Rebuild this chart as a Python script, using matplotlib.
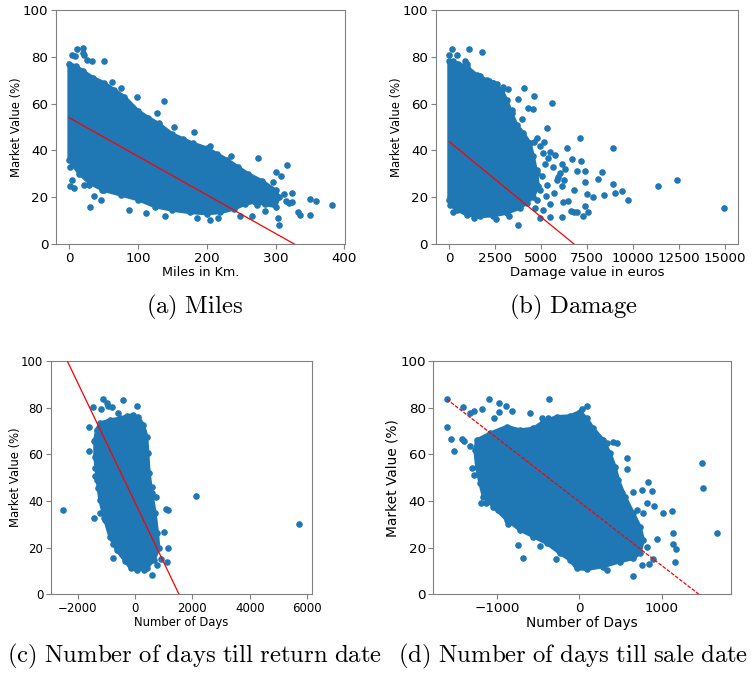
import matplotlib
matplotlib.use("Agg")
import matplotlib.pyplot as plt

plt.rcParams['mathtext.fontset'] = 'cm'

BLUE = '#1f77b4'
GREY = '#808080'

# ---- (a) Miles ----
# outline of the dense cloud (miles, market value %)
a_cloud_x = [0, 10, 20, 35, 50, 65, 80, 100, 115, 130, 150, 165, 180, 200, 215, 230, 245, 260, 280, 300, 305,
             300, 285, 270, 255, 240, 220, 200, 175, 150, 125, 100, 75, 50, 30, 15, 5, 0]
a_cloud_y = [77, 76, 74, 71, 69, 66, 63, 57, 54, 51.5, 47, 45, 43, 41, 38.5, 36, 33, 30, 27, 23, 20,
             16, 17, 18, 17, 15, 13.5, 13, 13.5, 14.5, 16, 19, 21, 23, 26, 30, 34, 36]
# single points around the cloud
a_pts_x = [12, 20, 20, 21, 4, 8, 26, 34, 50, 138, 63, 76, 99, 128, 152, 181, 205, 235, 274, 317, 300, 308,
           297, 324, 312, 350, 359, 382, 350, 333, 336, 324, 304, 305, 30, 2, 7, 4, 2, 22, 29, 36, 47, 48,
           87, 112, 139, 186, 205, 217, 249, 266, 273, 290, 285, 280, 320, 315]
a_pts_y = [83.2, 83.6, 81.8, 80.8, 80.8, 80.4, 78.7, 78.4, 78, 61.2, 69.4, 66.6, 63, 56, 49.8, 47.7, 41.7,
           37.7, 36.7, 33.6, 30.7, 28.9, 26.3, 21.8, 21.3, 19.2, 18.2, 16.8, 12.5, 13.7, 12.2, 17.8, 11.1, 8.3,
           15.8, 24.6, 24, 27.5, 33.1, 25.3, 25.3, 20.6, 18.9, 23.2, 14.7, 13.2, 11.8, 11.1, 10.4, 11.1, 11.8,
           11.8, 16.8, 22, 14, 26, 17.5, 18.5]
a_fit_x = [0, 382]
a_fit_y = [54, 54 - 0.165 * 382]

# ---- (b) Damage ----
b_cloud_x = [0, 200, 500, 960, 1500, 2050, 2400, 2860, 3130, 3400, 3680, 4040, 4400, 4580, 4760, 4850,
             4580, 4220, 3860, 3130, 2400, 1690, 960, 420, 50, 0]
b_cloud_y = [78, 78, 77, 75.8, 72.3, 70.1, 68.7, 65.9, 61.6, 55.9, 50.9, 47.4, 43.1, 37.4, 30.3, 24.6,
             20.3, 17.5, 15.4, 13.2, 12.1, 11.8, 12.5, 14.7, 16.8, 18.9]
b_pts_x = [181, 1105, 1812, 0, 435, 870, 996, 1685, 2192, 2409, 2590, 2953, 3225, 4094, 4620, 5616, 3768,
           4275, 4547, 3406, 3940, 5308, 4764, 7120, 8895, 6395, 4946, 5181, 5489, 5761, 6123, 6667, 7174,
           6938, 7391, 8297, 8080, 7373, 8931, 9384, 9022, 11377, 12409, 14964, 9746, 8442, 7844, 7482,
           6812, 6123, 6486, 6178, 6938, 7391, 7572, 7264, 6630, 6812, 6123, 5489, 5127, 4674, 4946, 3732,
           3279, 2536, 1359, 1594, 236, 5308, 5851, 6033, 5670, 5217, 5399, 5127, 4620, 4221, 4402, 4764,
           4493, 4946, 5272, 4764, 5950, 6300, 5700, 5050, 5500, 6250]
b_pts_y = [83.5, 83.5, 81.9, 80.8, 80.8, 78.2, 76.8, 71.8, 69.7, 69, 68.3, 67, 66.1, 66.6, 63.3, 60.2,
           61.9, 58.3, 57.6, 57.3, 53.3, 49.5, 45.2, 45.2, 41, 41, 42, 43.8, 39.5, 38.1, 34.3, 36.3, 35.6,
           31, 31, 30.6, 27.7, 26.6, 25.6, 22.5, 22, 24.9, 27.5, 15.6, 18.9, 21, 20.3, 21.3, 23.2, 24.9,
           18.2, 17.8, 13.5, 16.1, 13.5, 12.1, 13.9, 13.5, 11.5, 11.5, 14.6, 15.4, 11.1, 8.3, 12.1, 10.7,
           11.1, 12.5, 13.7, 25.3, 27.5, 30.3, 33.1, 34.3, 36.7, 38.8, 43.8, 40.3, 37.4, 31.7, 26.7, 23.2,
           20.6, 18.9, 28.5, 32, 22, 29, 17, 27.5]
b_fit_x = [0, 14964]
b_fit_y = [43.8, 43.8 - 43.8 / 6793 * 14964]

# ---- (c) Days till return date ----
c_cloud_x = [-1221, -872, -523, -291, -58, 116, 291, 407, 442, 488, 581, 698, 779, 826, 663, 407, 58,
             -151, -349, -640, -872, -1047, -1221, -1314, -1395, -1395, -1337]
c_cloud_y = [73.3, 74.7, 75.4, 76.4, 76.9, 75.9, 72.6, 67.6, 60.4, 51.9, 43.3, 34.7, 26.1, 19.7, 14.7,
             11.4, 10.4, 11.1, 14.4, 19, 24.7, 31.9, 40.4, 49, 59, 66.1, 70.4]
c_pts_x = [-2500, 2116, 5733, -1605, -1593, -1430, -1477, -1105, -988, -407, 58, -1198, -930, -791, -605,
           -1384, -1407, -1419, -1221, -1070, -756, -779, -291, 326, 581, 756, 1128, 1163, 895, 1012, 1081,
           1140, 733, 581, -1279, -1221]
c_pts_y = [36, 42.3, 30.1, 71.7, 61.4, 65.9, 80.3, 83.6, 81.9, 83.3, 80.9, 79.3, 80.7, 80.4, 77.9, 54,
           50.7, 32.7, 34.7, 32.9, 15.4, 21.4, 15.1, 10.4, 8.3, 12.6, 14, 19.7, 15, 26.6, 36.4, 36, 41.6,
           46.1, 45.4, 49]
c_fit_x = [-2500, 5733]
c_fit_y = [39.4 + 0.02567 * 2500, 39.4 - 0.02567 * 5733]

# ---- (d) Days till sale date ----
d_cloud_x = [-1247, -1085, -883, -721, -559, -437, -275, -113, 8, 89, 170, 291, 372, 433, 474, 555, 656,
             737, 777, 737, 656, 494, 291, 89, -32, -113, -235, -397, -559, -721, -883, -1045, -1166,
             -1206, -1247, -1267]
d_cloud_y = [66.1, 69, 71.9, 70.4, 71.1, 74, 76.1, 76.4, 78.3, 75.4, 71.1, 66.1, 60.4, 54.7, 49, 41.9,
             34.7, 29, 23.3, 17.6, 15.4, 14, 11.9, 10.7, 11.1, 14.7, 17.6, 21.9, 24.7, 27.6, 31.9, 37.6,
             41.9, 47.6, 54.7, 61.9]
d_pts_x = [-1603, -1409, -1522, -1429, -1401, -1328, -1308, -1279, -1194, -1097, -976, -972, -895, -814,
           -595, -368, -377, -449, 89, 36, -1328, -1275, -1186, -1036, -1559, -1198, -1134, -1024, -984,
           -870, -741, -680, -478, -283, -81, 332, 648, 757, 850, 891, 826, 939, 1020, 1134, 1121, 1142,
           1162, 1170, 1494, 1506, 1668, 575, 575, 453, 413, 332, 656, 757, 838, 879, 907, 818, 777, 696,
           514, -1603]
d_pts_y = [83.6, 80.4, 61.6, 66.4, 65.7, 63.6, 54, 51.1, 54.3, 83.6, 81.9, 78.3, 80.9, 78.6, 77.9, 83.6,
           75.4, 75.4, 80.7, 79.4, 77.6, 78.7, 79.3, 75.7, 66.4, 39, 39, 37.6, 36.1, 30, 21.3, 15.4, 20.9,
           15, 15, 10.4, 8, 12.6, 13, 15.1, 20.4, 23.6, 34.7, 26.4, 35.7, 21.6, 14, 19.6, 56.4, 45.7, 26.4,
           58.3, 53.6, 65, 65.4, 65, 44, 44.7, 48.3, 44.4, 37.9, 39.3, 34.7, 36.1, 43.3, 71.9]
d_fit_x = [-1611, 1668]
d_fit_y = [83.6, 83.6 - 0.02728 * (1668 + 1611)]

panels = [
    # rect, xlim, xticks, xlabel, data, fit style, (tick, xlabel, ylabel) sizes, ylabel x
    ([0.0742, 0.6385, 0.3828, 0.3467], (-19, 401), [0, 100, 200, 300, 400], 'Miles in Km.',
     (a_cloud_x, a_cloud_y, a_pts_x, a_pts_y, a_fit_x, a_fit_y), '-', (9.6, 9.2, 8.4), -0.114),
    ([0.5771, 0.6385, 0.4008, 0.3467], (-723, 15723), [0, 2500, 5000, 7500, 10000, 12500, 15000],
     'Damage value in euros',
     (b_cloud_x, b_cloud_y, b_pts_x, b_pts_y, b_fit_x, b_fit_y), '-', (9.6, 9.5, 8.4), -0.109),
    ([0.0675, 0.1196, 0.3453, 0.3456], (-2930, 6160), [-2000, 0, 2000, 4000, 6000], 'Number of Days',
     (c_cloud_x, c_cloud_y, c_pts_x, c_pts_y, c_fit_x, c_fit_y), '-', (8.5, 8.4, 8.4), -0.113),
    ([0.5739, 0.1196, 0.3939, 0.3456], (-1775, 1840), [-1000, 0, 1000], 'Number of Days',
     (d_cloud_x, d_cloud_y, d_pts_x, d_pts_y, d_fit_x, d_fit_y), (0, (3, 1.2)), (9.7, 9.9, 9.9), -0.113),
]

captions = [
    (0.257, 0.545, r'$\mathrm{(a)\ Miles}$'),
    (0.7596, 0.545, r'$\mathrm{(b)\ Damage}$'),
    (0.257, 0.027, r'$\mathrm{(c)\ Number\ of\ days\ till\ return\ date}$'),
    (0.759, 0.027, r'$\mathrm{(d)\ Number\ of\ days\ till\ sale\ date}$'),
]

fig = plt.figure(figsize=(7.55, 6.75), dpi=100)

for rect, xlim, xticks, xlabel, data, ls, sizes, ylx in panels:
    cx, cy, px, py, fx, fy = data
    tfs, xfs, yfs = sizes
    ax = fig.add_axes(rect)
    ax.fill(cx, cy, color=BLUE, lw=2.5, zorder=2)
    ax.scatter(cx, cy, s=14, color=BLUE, zorder=2)
    ax.scatter(px, py, s=14, color=BLUE, zorder=2)
    ax.plot(fx, fy, color='red', lw=0.9, ls=ls, zorder=3)
    ax.set_xlim(*xlim)
    ax.set_ylim(0, 100)
    ax.set_xticks(xticks)
    ax.set_yticks([0, 20, 40, 60, 80, 100])
    ax.set_xlabel(xlabel, fontsize=xfs, labelpad=1)
    ax.set_ylabel('Market Value (%)', fontsize=yfs)
    ax.yaxis.set_label_coords(ylx, 0.5)
    ax.tick_params(labelsize=tfs, color=GREY, length=3.5, pad=2)
    for sp in ax.spines.values():
        sp.set_color(GREY)

for x, y, txt in captions:
    fig.text(x, y, txt, ha='center', va='center', fontsize=17.8)

fig.savefig('out.png', dpi=100)
